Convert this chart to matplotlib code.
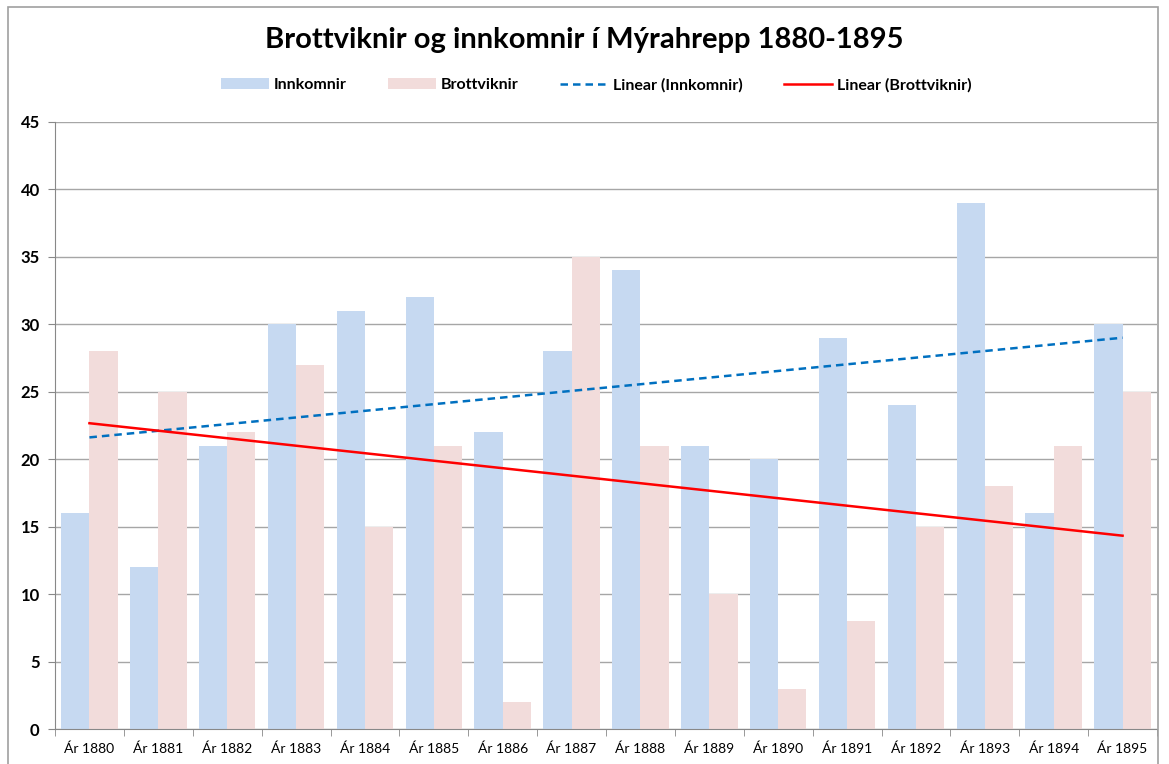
import numpy as np
import matplotlib.pyplot as plt
from matplotlib.patches import Rectangle

plt.rcParams['font.family'] = ['Lato', 'DejaVu Sans']

years = ['Ár 1880', 'Ár 1881', 'Ár 1882', 'Ár 1883', 'Ár 1884', 'Ár 1885', 'Ár 1886', 'Ár 1887',
         'Ár 1888', 'Ár 1889', 'Ár 1890', 'Ár 1891', 'Ár 1892', 'Ár 1893', 'Ár 1894', 'Ár 1895']
innkomnir = [16, 12, 21, 30, 31, 32, 22, 28, 34, 21, 20, 29, 24, 39, 16, 30]
brottviknir = [28, 25, 22, 27, 15, 21, 2, 35, 21, 10, 3, 8, 15, 18, 21, 25]

fig = plt.figure(figsize=(11.69, 7.64), dpi=100)
ax = fig.add_axes([55 / 1169, 1 - 729 / 764, (1157 - 55) / 1169, (729 - 122) / 764])

x = np.arange(len(years))
w = 0.41
b1 = ax.bar(x - w / 2, innkomnir, w, color='#C6D9F1', label='Innkomnir', zorder=2)
b2 = ax.bar(x + w / 2, brottviknir, w, color='#F2DCDB', label='Brottviknir', zorder=2)

# linear trendlines, same as Excel
p1 = np.polyfit(x, innkomnir, 1)
p2 = np.polyfit(x, brottviknir, 1)
l1, = ax.plot(x, np.polyval(p1, x), color='#0070C0', ls=(0, (3, 2)), lw=1.8, label='Linear (Innkomnir)', zorder=3)
l2, = ax.plot(x, np.polyval(p2, x), color='#FF0000', lw=1.8, label='Linear (Brottviknir)', zorder=3)

ax.set_xlim(-0.5, len(years) - 0.5)
ax.set_ylim(0, 45)
ax.set_yticks(range(0, 46, 5))
ax.yaxis.grid(True, color='#A6A6A6', lw=1, zorder=0)
ax.set_axisbelow(True)

ax.set_xticks(x)
ax.set_xticklabels(years, fontsize=10)
ax.set_xticks(np.arange(-0.5, len(years)), minor=True)
ax.tick_params(axis='x', which='major', length=0, pad=10)
ax.tick_params(axis='x', which='minor', length=5, color='#888888', direction='out')
ax.tick_params(axis='y', length=5, color='#888888', direction='out', labelsize=12, pad=6)
for lab in ax.get_yticklabels():
    lab.set_fontweight('bold')

for s in ['top', 'right']:
    ax.spines[s].set_visible(False)
for s in ['left', 'bottom']:
    ax.spines[s].set_color('#888888')

fig.text(0.5, 1 - 40 / 764, 'Brottviknir og innkomnir í Mýrahrepp 1880-1895',
         ha='center', va='center', fontsize=21, fontweight='bold')
fig.legend([b1, b2, l1, l2], ['Innkomnir', 'Brottviknir', 'Linear (Innkomnir)', 'Linear (Brottviknir)'],
           loc='center', bbox_to_anchor=(0.51, 1 - 85 / 764), ncol=4, frameon=False,
           prop={'weight': 'bold', 'size': 11.5}, handlelength=3, columnspacing=2.6, handletextpad=0.3)

fig.patches.append(Rectangle((8 / 1169, -0.1), 1150 / 1169, 1.1 - 7 / 764, transform=fig.transFigure,
                             fill=False, edgecolor='#A0A0A0', lw=1.2))

fig.savefig('out.png', dpi=100)
